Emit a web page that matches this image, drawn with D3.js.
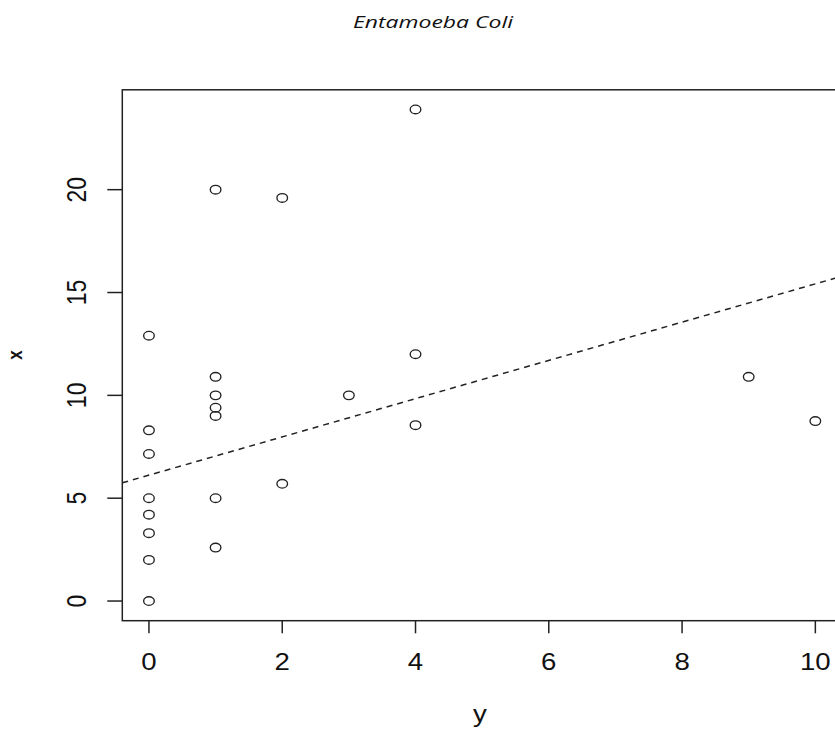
<!DOCTYPE html>
<html>
<head>
<meta charset="utf-8">
<script src="https://cdn.jsdelivr.net/npm/d3@7"></script>
<style>
  body { margin: 0; background: #fff; }
  svg { display: block; }
</style>
</head>
<body>
<script>
// Chart text
const title = "Entamoeba Coli";
const xLabel = "y";
const yLabel = "x";

// Observations: horizontal value (y) and vertical value (x)
const obsY = [0, 0, 0, 0, 0, 0, 0, 0,
              1, 1, 1, 1, 1, 1, 1,
              2, 2,
              3,
              4, 4, 4,
              9,
              10];
const obsX = [0, 2, 3.3, 4.2, 5, 7.15, 8.3, 12.9,
              20, 10.9, 10, 9.4, 9, 5, 2.6,
              19.6, 5.7,
              10,
              23.9, 12, 8.55,
              10.9,
              8.75];

// Axis ticks
const xTicks = [0, 2, 4, 6, 8, 10];
const yTicks = [0, 5, 10, 15, 20];

// Reference line (dashed)
const fitIntercept = 6.12;
const fitSlope = 0.93;

const W = 835, H = 731;
const plot = { left: 122.3, right: 842, top: 89.8, bottom: 620.7 };
const stretch = 1.2;   // horizontal text stretch
const ink = "#222";

// R-style 4% padded domains
function padded(vals) {
  const [lo, hi] = d3.extent(vals);
  const p = (hi - lo) * 0.04;
  return [lo - p, hi + p];
}

const x = d3.scaleLinear().domain(padded(obsY)).range([plot.left, plot.right]);
const y = d3.scaleLinear().domain(padded(obsX)).range([plot.bottom, plot.top]);

const svg = d3.select("body").append("svg")
  .attr("width", W).attr("height", H);

function label(g, text, px, py, opts = {}) {
  const rot = opts.rotate ? " rotate(-90)" : "";
  return g.append("text")
    .attr("transform", `translate(${px},${py}) scale(${stretch},1)${rot}`)
    .attr("text-anchor", opts.anchor || "middle")
    .attr("font-family", "'Liberation Sans', Arial, sans-serif")
    .attr("font-size", opts.size || 23)
    .attr("font-weight", opts.weight || "normal")
    .attr("fill", opts.fill || "#111")
    .text(text);
}

// Title
svg.append("text")
  .attr("x", 353).attr("y", 28)
  .attr("textLength", 160)
  .attr("lengthAdjust", "spacingAndGlyphs")
  .attr("font-family", "'Open Sans', Lato, sans-serif")
  .attr("font-style", "italic")
  .attr("font-size", 17)
  .attr("fill", "#111")
  .text(title);

// Clip for plot region
svg.append("clipPath").attr("id", "plotclip")
  .append("rect")
  .attr("x", plot.left).attr("y", plot.top)
  .attr("width", plot.right - plot.left).attr("height", plot.bottom - plot.top);

// Dashed reference line across the plot region
const [dx0, dx1] = x.domain();
svg.append("line")
  .attr("clip-path", "url(#plotclip)")
  .attr("x1", x(dx0)).attr("y1", y(fitIntercept + fitSlope * dx0))
  .attr("x2", x(dx1)).attr("y2", y(fitIntercept + fitSlope * dx1))
  .attr("stroke", ink)
  .attr("stroke-width", 1.5)
  .attr("stroke-dasharray", "6,5");

// Points
svg.append("g").selectAll("ellipse")
  .data(obsY.map((v, i) => ({ h: v, v: obsX[i] })))
  .join("ellipse")
  .attr("cx", d => x(d.h))
  .attr("cy", d => y(d.v))
  .attr("rx", 5.3)
  .attr("ry", 4.3)
  .attr("fill", "none")
  .attr("stroke", ink)
  .attr("stroke-width", 1.35);

// Plot box
svg.append("rect")
  .attr("x", plot.left).attr("y", plot.top)
  .attr("width", plot.right - plot.left).attr("height", plot.bottom - plot.top)
  .attr("fill", "none")
  .attr("stroke", ink)
  .attr("stroke-width", 1.5);

// Bottom axis ticks and labels
const xAxis = svg.append("g");
xAxis.selectAll("line").data(xTicks).join("line")
  .attr("x1", d => x(d)).attr("x2", d => x(d))
  .attr("y1", plot.bottom).attr("y2", plot.bottom + 12.6)
  .attr("stroke", ink).attr("stroke-width", 1.5);
xTicks.forEach(t => label(xAxis, String(t), x(t), 670));

// Left axis ticks and labels
const yAxis = svg.append("g");
yAxis.selectAll("line").data(yTicks).join("line")
  .attr("x1", plot.left).attr("x2", plot.left - 15)
  .attr("y1", d => y(d)).attr("y2", d => y(d))
  .attr("stroke", ink).attr("stroke-width", 1.5);
yTicks.forEach(t => label(yAxis, String(t), 86, y(t), { rotate: true }));

// Axis titles
label(svg, xLabel, 480, 722);
label(svg, yLabel, 22, 355, { rotate: true, size: 17, weight: "bold" });
</script>
</body>
</html>
